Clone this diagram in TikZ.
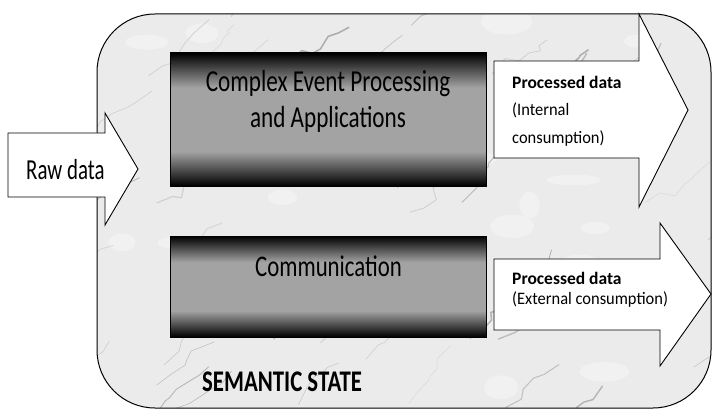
\documentclass[tikz,border=0pt]{standalone}
\usepackage{fontspec}
\setmainfont{Carlito}
\newfontfamily\boxfont[FakeStretch=0.76]{Carlito}
\newfontfamily\rawfont[FakeStretch=0.72]{Carlito}
\newfontfamily\pfont[FakeStretch=0.94]{Carlito}
\pgfdeclareverticalshading{boxshade}{100bp}{color(0bp)=(black); color(25bp)=(black); color(38bp)=(black!36); color(62bp)=(black!36); color(75bp)=(black); color(100bp)=(black)}
\begin{document}
\begin{tikzpicture}[x=1pt,y=-1pt,
  outline/.style={draw=black,line width=1pt},
  bigarrow/.style={draw=black,line width=0.9pt,fill=white},
  darkbox/.style={draw=black,line width=1pt,shading=boxshade},
  lbl/.style={inner sep=0pt,text=black,anchor=base}]
\useasboundingbox (0,0) rectangle (712,409);
% marble background
\path[fill=black!8,rounded corners=58pt] (97,14) rectangle (711,408);
\begin{scope}
\clip[rounded corners=58pt] (97,14) rectangle (711,408);
\pgfmathsetseed{11}
\foreach \i in {1,...,30}{
  \pgfmathsetmacro{\xa}{97+rnd*614}
  \pgfmathsetmacro{\ya}{14+rnd*394}
  \fill[white,opacity=0.3] (\xa,\ya) ellipse ({10+rnd*20} and {5+rnd*10});
}
\foreach \i in {1,...,55}{
  \pgfmathsetmacro{\xa}{60+rnd*680}
  \pgfmathsetmacro{\ya}{rnd*440}
  \pgfmathsetmacro{\gr}{14+rnd*20}
  \pgfmathsetmacro{\lw}{0.3+rnd*1.2}
  \draw[black!\gr,line width=\lw pt,line cap=round,line join=round]
    (\xa,\ya) -- ++(4+rnd*14,-4-rnd*12) -- ++(2+rnd*14,-10+rnd*14) -- ++(-4+rnd*14,-12+rnd*8)
    -- ++(4+rnd*12,-2-rnd*12) -- ++(-2+rnd*14,-10+rnd*10) -- ++(4+rnd*12,-4-rnd*10);
}
\end{scope}
\path[outline,rounded corners=58pt] (97,14) rectangle (711,408);
% dark boxes
\path[darkbox] (170,53) rectangle (486,186);
\path[darkbox] (170,236) rectangle (486,337);
% raw data arrow
\path[bigarrow] (8,133) -- (105,133) -- (105,113) -- (138,169) -- (105,225) -- (105,197) -- (8,197) -- cycle;
% processed arrows
\path[bigarrow] (494,61) -- (639,61) -- (639,14) -- (688,110) -- (639,207) -- (639,158) -- (494,158) -- cycle;
\path[bigarrow] (494,259) -- (660,259) -- (660,223) -- (711,294) -- (660,366) -- (660,330) -- (494,330) -- cycle;
% texts
\node[lbl,font=\boxfont\fontsize{30.5}{36}\selectfont] (cep1) at (328,91.7) {Complex Event Processing};
\node[lbl,font=\boxfont\fontsize{30.5}{36}\selectfont] (cep2) at (328,128) {and Applications};
\node[lbl,font=\boxfont\fontsize{30}{36}\selectfont] (comm) at (328.5,276.7) {Communication};
\node[lbl,font=\rawfont\fontsize{29}{34}\selectfont,anchor=base west] (raw) at (26,179) {Raw data};
\node[lbl,font=\fontsize{17.5}{20}\selectfont\bfseries,anchor=base west] (p1a) at (512,88.5) {Processed data};
\node[lbl,font=\pfont\fontsize{17.5}{20}\selectfont,anchor=base west] (p1b) at (512,116) {(Internal};
\node[lbl,font=\pfont\fontsize{17.5}{20}\selectfont,anchor=base west] (p1c) at (512,143) {consumption)};
\node[lbl,font=\fontsize{17.5}{20}\selectfont\bfseries,anchor=base west] (p2a) at (512,284.3) {Processed data};
\node[lbl,font=\pfont\fontsize{17.5}{20}\selectfont,anchor=base west] (p2b) at (512,304.3) {(External consumption)};
\node[lbl,font=\boxfont\fontsize{30}{36}\selectfont\bfseries,anchor=base west] (sem) at (202,391.7) {SEMANTIC STATE};
\end{tikzpicture}
\end{document}
